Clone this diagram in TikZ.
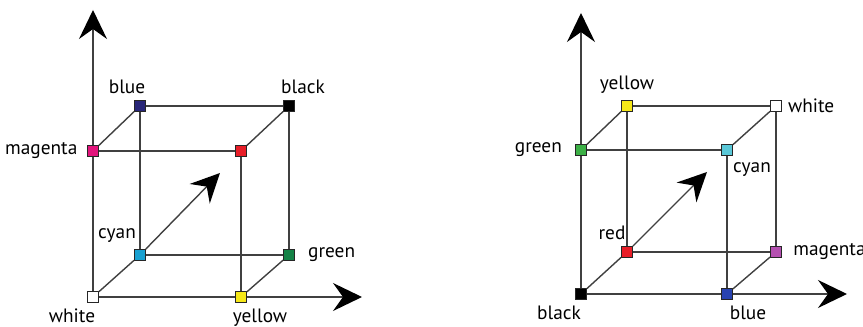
\documentclass[tikz,border=0pt]{standalone}
\usepackage{fontspec}
\setmainfont{PT Sans}
\usetikzlibrary{arrows.meta}

\definecolor{cblue}{RGB}{40,38,120}
\definecolor{cmagenta}{RGB}{226,20,124}
\definecolor{cred}{RGB}{232,30,40}
\definecolor{ccyan}{RGB}{24,160,208}
\definecolor{cgreen}{RGB}{20,130,70}
\definecolor{cyellow}{RGB}{246,232,24}
\definecolor{rgreen}{RGB}{60,176,70}
\definecolor{rcyan}{RGB}{90,200,216}
\definecolor{rmagenta}{RGB}{180,80,176}
\definecolor{rblue}{RGB}{40,66,176}

\begin{document}
\begin{tikzpicture}[
    x=0.02cm,
    y=-0.02cm,
    font=\fontsize{11}{13}\selectfont,
    edge/.style = {
      draw=black!75,
      line width=0.8pt
    },
    axis/.style = {
      edge,
      -{Stealth[length=0.58cm,width=0.56cm,inset=0.2cm,black]}
    },
    sq/.style = {
      draw=black!85,
      rectangle,
      line width=0.5pt,
      inner sep=0pt,
      minimum size=0.22cm
    }
  ]
  \useasboundingbox (0,0) rectangle (863,327);

  % subtractive cube
  \node[sq, fill=white, label={[xshift=-0.42cm]below:white}] (lwhite) at (93,297) {};
  \node[sq, fill=cyellow, label={[xshift=0.38cm]below:yellow}] (lyellow) at (241,297) {};
  \node[sq, fill=ccyan, label={[xshift=-0.46cm]above:cyan}] (lcyan) at (140,255) {};
  \node[sq, fill=cgreen, label={[label distance=4pt]right:green}] (lgreen) at (289,255) {};
  \node[sq, fill=cmagenta, label={[label distance=2pt]left:magenta}] (lmagenta) at (93,151) {};
  \node[sq, fill=cred] (lred) at (241,151) {};
  \node[sq, fill=cblue, label={[xshift=-0.26cm]above:blue}] (lblue) at (140,106) {};
  \node[sq, fill=black, label={[xshift=0.28cm]above:black}] (lblack) at (289,106) {};

  \coordinate (ltop) at (93,10);
  \coordinate (lright) at (362,297);
  \coordinate (ldiag) at (220,173);

  \draw[edge] (lwhite) -- (lmagenta);
  \draw[axis] (lmagenta) -- (ltop);
  \draw[edge] (lwhite) -- (lyellow);
  \draw[axis] (lyellow) -- (lright);
  \draw[axis] (lcyan) -- (ldiag);

  \draw[edge] (lwhite) -- (lcyan);
  \draw[edge] (lyellow) -- (lgreen);
  \draw[edge] (lyellow) -- (lred);
  \draw[edge] (lcyan) -- (lgreen);
  \draw[edge] (lcyan) -- (lblue);
  \draw[edge] (lmagenta) -- (lred);
  \draw[edge] (lmagenta) -- (lblue);
  \draw[edge] (lred) -- (lblack);
  \draw[edge] (lgreen) -- (lblack);
  \draw[edge] (lblue) -- (lblack);

  % additive cube
  \node[sq, fill=black, label={[xshift=-0.44cm]below:black}] (rblack) at (581,294) {};
  \node[sq, fill=rblue, label={[xshift=0.42cm]below:blue}] (rblue) at (727,294) {};
  \node[sq, fill=cred, label={[xshift=-0.3cm]above:red}] (rred) at (627,252) {};
  \node[sq, fill=rmagenta, label={[label distance=3pt]right:magenta}] (rmagenta) at (776,252) {};
  \node[sq, fill=rgreen, label={[label distance=4pt]left:green}] (rgreen) at (581,150) {};
  \node[sq, fill=rcyan, label={[xshift=0.5cm]below:cyan}] (rcyan) at (727,150) {};
  \node[sq, fill=cyellow, label={above:yellow}] (ryellow) at (627,106) {};
  \node[sq, fill=white, label={right:white}] (rwhite) at (776,106) {};

  \coordinate (rtop) at (581,13);
  \coordinate (rright) at (847,294);
  \coordinate (rdiag) at (707,172);

  \draw[edge] (rblack) -- (rgreen);
  \draw[axis] (rgreen) -- (rtop);
  \draw[edge] (rblack) -- (rblue);
  \draw[axis] (rblue) -- (rright);
  \draw[axis] (rred) -- (rdiag);

  \draw[edge] (rblack) -- (rred);
  \draw[edge] (rblue) -- (rmagenta);
  \draw[edge] (rblue) -- (rcyan);
  \draw[edge] (rred) -- (rmagenta);
  \draw[edge] (rred) -- (ryellow);
  \draw[edge] (rgreen) -- (rcyan);
  \draw[edge] (rgreen) -- (ryellow);
  \draw[edge] (rcyan) -- (rwhite);
  \draw[edge] (rmagenta) -- (rwhite);
  \draw[edge] (ryellow) -- (rwhite);

\end{tikzpicture}
\end{document}
